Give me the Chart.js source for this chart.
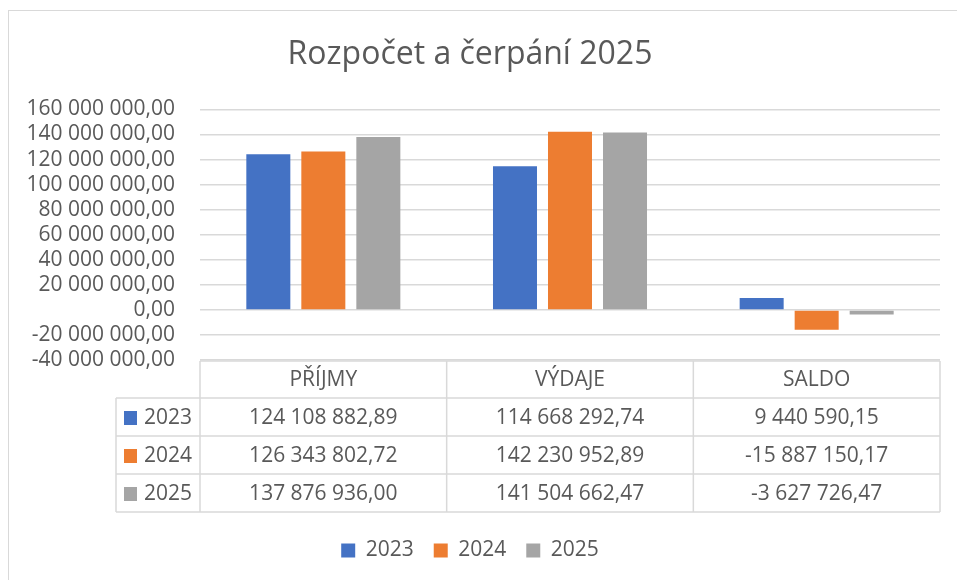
<!DOCTYPE html>
<html>
<head>
<meta charset="utf-8">
<script src="https://cdn.jsdelivr.net/npm/chart.js@4"></script>
<style>
  body { margin: 0; background: #fff; }
  #wrap { width: 957px; height: 580px; }
</style>
</head>
<body>
<div id="wrap"><canvas id="budgetChart" width="957" height="580"></canvas></div>
<script>
// Rozpočet a čerpání 2025 - bar chart with data table

const categories = ['PŘÍJMY', 'VÝDAJE', 'SALDO'];
const years = ['2023', '2024', '2025'];
const values2023 = [124108882.89, 114668292.74, 9440590.15];
const values2024 = [126343802.72, 142230952.89, -15887150.17];
const values2025 = [137876936.00, 141504662.47, -3627726.47];
const yTicks = [-40000000, -20000000, 0, 20000000, 40000000, 60000000, 80000000, 100000000, 120000000, 140000000, 160000000];

const colors = ['#4472C4', '#ED7D31', '#A5A5A5'];
const textColor = '#595959';
const lineColor = '#d9d9d9';
const fontFamily = "'Open Sans', 'Noto Sans', sans-serif";

// 124108882.89 -> "124 108 882,89"
function fmt(v) {
    const neg = v < 0;
    const parts = Math.abs(v).toFixed(2).split('.');
    const int = parts[0].replace(/\B(?=(\d{3})+(?!\d))/g, ' ');
    return (neg ? '-' : '') + int + ',' + parts[1];
}

const seriesValues = [values2023, values2024, values2025];

// draws the data table under the plot, columns taken from the x scale
const dataTable = {
    id: 'dataTable',
    beforeDraw(chart) {
        const ctx = chart.ctx;
        ctx.save();
        ctx.strokeStyle = lineColor;
        ctx.lineWidth = 1;
        ctx.strokeRect(8.5, 10.5, 1200, 1200);
        ctx.restore();
    },
    afterDraw(chart) {
        const ctx = chart.ctx;
        const x = chart.scales.x;
        const area = chart.chartArea;
        const top = area.bottom + 1;
        const headH = 37;
        const rowH = 38;
        const keyLeft = 116;
        const colW = (area.right - area.left) / categories.length;

        ctx.save();
        ctx.strokeStyle = lineColor;
        ctx.lineWidth = 1.5;

        ctx.beginPath();
        ctx.moveTo(area.left, top);
        ctx.lineTo(area.right, top);
        for (let r = 0; r <= years.length; r++) {
            const y = top + headH + r * rowH;
            ctx.moveTo(keyLeft, y);
            ctx.lineTo(area.right, y);
        }
        const bottom = top + headH + years.length * rowH;
        ctx.moveTo(keyLeft, top + headH);
        ctx.lineTo(keyLeft, bottom);
        for (let c = 0; c <= categories.length; c++) {
            const cx = area.left + c * colW;
            ctx.moveTo(cx, top);
            ctx.lineTo(cx, bottom);
        }
        ctx.stroke();

        ctx.fillStyle = textColor;
        ctx.font = '21px ' + fontFamily;
        ctx.textAlign = 'center';
        ctx.textBaseline = 'middle';
        categories.forEach((cat, i) => {
            ctx.fillText(cat, x.getPixelForValue(i), top + headH / 2 + 1);
        });

        years.forEach((yr, r) => {
            const cy = top + headH + r * rowH + rowH / 2 + 1;
            ctx.fillStyle = colors[r];
            ctx.fillRect(keyLeft + 8, cy - 7, 13, 14);
            ctx.fillStyle = textColor;
            ctx.textAlign = 'left';
            ctx.fillText(yr, keyLeft + 28, cy);
            ctx.textAlign = 'center';
            seriesValues[r].forEach((v, i) => {
                ctx.fillText(fmt(v), x.getPixelForValue(i), cy);
            });
        });
        ctx.restore();
    }
};

const ctx = document.getElementById('budgetChart').getContext('2d');

new Chart(ctx, {
    type: 'bar',
    data: {
        labels: categories,
        datasets: years.map((yr, i) => ({
            label: yr,
            data: seriesValues[i],
            backgroundColor: colors[i],
            categoryPercentage: 0.669,
            barPercentage: 0.8
        }))
    },
    options: {
        responsive: false,
        animation: false,
        layout: { padding: { top: 10, right: 17, bottom: 9, left: 0 } },
        plugins: {
            title: {
                display: true,
                text: 'Rozpočet a čerpání 2025',
                color: textColor,
                font: { family: fontFamily, size: 32, weight: 'normal' },
                padding: { top: 26, bottom: 35 }
            },
            legend: {
                position: 'bottom',
                labels: {
                    color: textColor,
                    font: { family: fontFamily, size: 21 },
                    boxWidth: 14,
                    boxHeight: 14,
                    padding: 20
                }
            },
            tooltip: { enabled: false }
        },
        scales: {
            x: {
                grid: { display: false },
                border: { display: false },
                ticks: { display: false },
                afterFit(scale) { scale.height = 160; }
            },
            y: {
                min: yTicks[0],
                max: yTicks[yTicks.length - 1],
                afterBuildTicks(scale) {
                    scale.ticks = yTicks.map(v => ({ value: v }));
                },
                afterFit(scale) { scale.width = 200; },
                grid: { color: lineColor, lineWidth: 1.5, drawTicks: false },
                border: { display: false },
                ticks: {
                    autoSkip: false,
                    color: textColor,
                    padding: 25,
                    font: { family: fontFamily, size: 21 },
                    callback: v => fmt(v)
                }
            }
        }
    },
    plugins: [dataTable]
});
</script>
</body>
</html>
